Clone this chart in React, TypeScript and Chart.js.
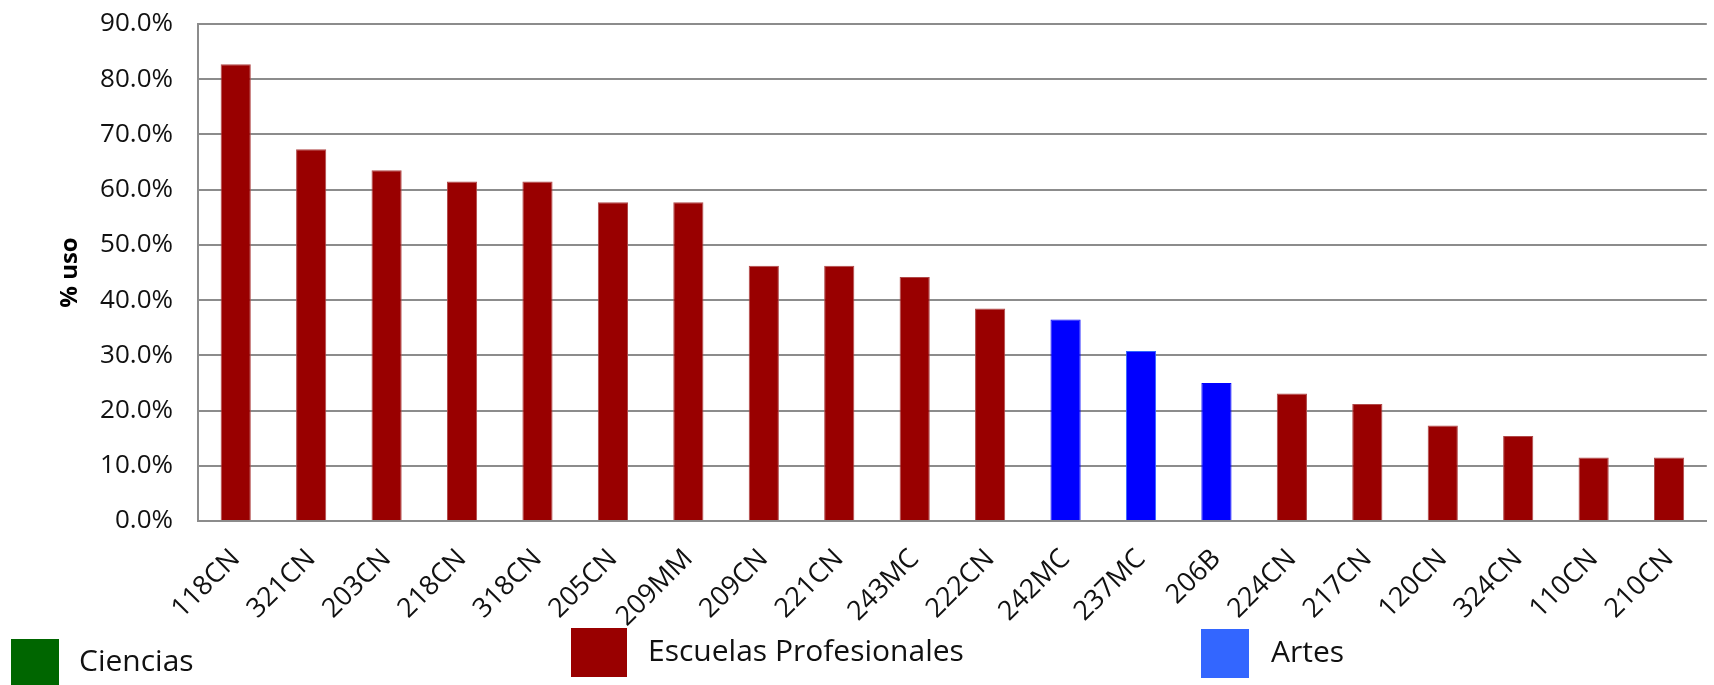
import React, { useEffect, useRef } from "react";
import { Chart, registerables } from "chart.js";

Chart.register(...registerables);

const categories = ["118CN","321CN","203CN","218CN","318CN","205CN","209MM","209CN","221CN","243MC","222CN","242MC","237MC","206B","224CN","217CN","120CN","324CN","110CN","210CN"];
const usage = [82.7,67.3,63.5,61.5,61.5,57.7,57.7,46.2,46.2,44.2,38.5,36.5,30.8,25.0,23.1,21.2,17.3,15.4,11.5,11.5];
const groups = ["E","E","E","E","E","E","E","E","E","E","E","A","A","A","E","E","E","E","E","E"];
const yTicks = [0,10,20,30,40,50,60,70,80,90];
const legendLabels = ["Ciencias","Escuelas Profesionales","Artes"];
const legendColors = ["#006600","#990000","#3366FF"];

const FONT = "'Open Sans', sans-serif";

const legendPlugin = {
  id: "customLegend",
  afterDraw(chart: any) {
    const ctx = chart.ctx;
    const items = [
      { x: 11, y: 639, w: 48, h: 49, tx: 79, ty: 662 },
      { x: 571, y: 628, w: 56, h: 49, tx: 648, ty: 652 },
      { x: 1201, y: 629, w: 48, h: 49, tx: 1271, ty: 653 },
    ];
    ctx.save();
    items.forEach((it, i) => {
      ctx.fillStyle = legendColors[i];
      ctx.fillRect(it.x, it.y, it.w, it.h);
      ctx.fillStyle = "#111";
      ctx.font = `30px ${FONT}`;
      ctx.textBaseline = "middle";
      ctx.textAlign = "left";
      ctx.fillText(legendLabels[i], it.tx, it.ty);
    });
    ctx.restore();
  },
};

export default function App() {
  const ref = useRef<HTMLCanvasElement>(null);
  useEffect(() => {
    document.body.style.margin = "0";
    document.body.style.overflow = "hidden";
    const bg = groups.map((g) => (g === "A" ? "#0000FF" : "#990000"));
    const bc = groups.map((g, i) => (g === "A" ? (categories[i] === "237MC" ? "#3366FF" : "#0000FF") : "#B04848"));
    const chart = new Chart(ref.current!, {
      type: "bar",
      data: {
        labels: categories,
        datasets: [
          {
            label: "% uso",
            data: usage,
            backgroundColor: bg,
            borderColor: bc,
            borderWidth: 1,
            barPercentage: 0.4,
            categoryPercentage: 1,
          },
        ],
      },
      options: {
        responsive: false,
        animation: false,
        layout: { padding: { top: 24, left: 0, right: 0, bottom: 0 } },
        plugins: { legend: { display: false }, tooltip: { enabled: false } },
        scales: {
          x: {
            grid: { display: false, drawTicks: false },
            border: { display: true, color: "#8c8c8c", width: 2 },
            ticks: {
              color: "#111",
              font: { family: FONT, size: 27 },
              maxRotation: 45,
              minRotation: 45,
              padding: 22,
              autoSkip: false,
            },
            afterFit(scale: any) {
              scale.height = 164;
            },
          },
          y: {
            min: 0,
            max: 90,
            afterBuildTicks(scale: any) {
              scale.ticks = yTicks.map((v) => ({ value: v }));
            },
            grid: { color: "#8c8c8c", lineWidth: 2, drawTicks: false },
            border: { display: true, color: "#8c8c8c", width: 2 },
            ticks: {
              color: "#111",
              font: { family: FONT, size: 26 },
              padding: 25,
              callback: (v: any) => Number(v).toFixed(1) + "%",
            },
            title: {
              display: true,
              text: "% uso",
              color: "#000",
              font: { family: FONT, size: 24, weight: "bold" },
              padding: { top: 56, bottom: 0 },
            },
            afterFit(scale: any) {
              scale.width = 198;
              scale.paddingTop = 0;
              scale.paddingBottom = 0;
            },
          },
        },
      },
      plugins: [legendPlugin],
    });
    return () => chart.destroy();
  }, []);
  return (
    <div style={{ position: "absolute", left: 0, top: 0, width: 1714, height: 685, background: "#fff" }}>
      <canvas ref={ref} width={1714} height={685} style={{ width: 1714, height: 685 }} />
    </div>
  );
}
